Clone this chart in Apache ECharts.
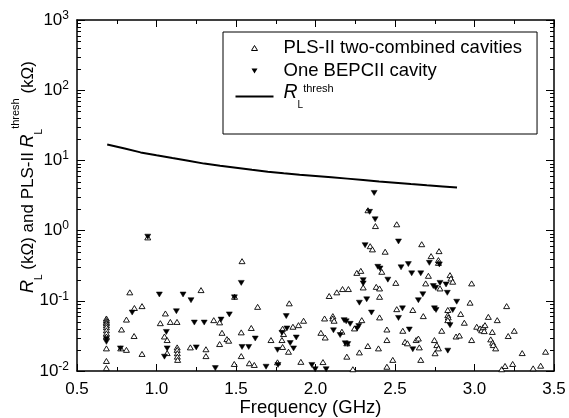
<!DOCTYPE html>
<html><head><meta charset="utf-8">
<script src="https://cdn.jsdelivr.net/npm/echarts@6/dist/echarts.min.js"></script>
<style>html,body{margin:0;padding:0;background:#fff}#c{width:569px;height:418px}</style>
</head><body><div id="c"></div>
<script>
// threshold impedance line (kΩ)
const threshFreq = [0.69,0.8,0.9,1.0,1.1,1.2,1.3,1.4,1.5,1.6,1.7,1.8,1.9,2.0,2.1,2.2,2.3,2.4,2.5,2.6,2.7,2.8,2.89];
const threshR    = [16.9,14.8,13.0,11.8,10.8,9.9,9.0,8.4,7.85,7.35,6.9,6.55,6.25,6.0,5.75,5.5,5.25,5.0,4.8,4.6,4.42,4.25,4.1];

// PLS-II two-combined cavities (open triangles)
const plsFreq = [0.685,0.685,0.685,0.685,0.685,0.685,0.685,0.685,0.685,0.685,0.685,0.685,
  0.775,0.780,0.811,0.811,0.832,0.859,0.861,0.909,0.909,0.945,1.024,1.050,1.056,1.067,1.067,1.087,1.129,1.130,1.130,1.131,1.131,1.133,
  1.213,1.280,1.311,1.311,1.360,1.397,1.397,1.412,1.443,1.454,1.489,1.491,1.533,1.533,1.538,1.584,1.596,1.615,1.636,1.720,1.761,
  1.789,1.793,1.793,1.799,1.830,1.835,1.858,1.893,1.908,1.925,2.034,2.047,2.057,2.061,2.086,2.109,2.109,2.117,2.134,2.166,2.170,
  2.197,2.197,2.207,2.235,2.245,2.260,2.276,2.285,2.291,2.300,2.329,2.330,2.344,2.358,2.377,2.382,2.396,2.403,2.403,2.403,2.417,
  2.438,2.449,2.449,2.449,2.486,2.505,2.511,2.511,2.549,2.563,2.578,2.612,2.633,2.647,2.653,2.662,2.668,2.678,2.693,2.710,2.727,
  2.748,2.752,2.763,2.773,2.773,2.773,2.777,2.783,2.794,2.832,2.832,2.835,2.832,2.846,2.852,2.863,2.884,2.905,2.913,2.936,2.972,
  2.982,2.982,3.014,3.035,3.045,3.055,3.061,3.066,3.087,3.102,3.112,3.114,3.118,3.133,3.143,3.171,3.192,3.202,3.212,3.240,3.250,
  3.300,3.369,3.416,3.447];
const plsR = [0.056,0.053,0.050,0.048,0.045,0.042,0.038,0.0344,0.031,0.021,0.0139,0.011,
  0.021,0.039,0.054,0.020,0.132,0.0315,0.079,0.084,0.0175,0.80,0.048,0.031,0.066,0.0276,0.018,0.050,0.050,0.0217,0.020,0.0179,0.016,0.0144,
  0.0217,0.142,0.0204,0.0163,0.053,0.0493,0.0242,0.035,0.0285,0.027,0.0126,0.114,0.0355,0.0163,0.367,0.0129,0.041,0.0122,0.082,0.0276,0.0133,
  0.0276,0.040,0.022,0.0336,0.0188,0.092,0.0427,0.045,0.0135,0.052,0.035,0.0134,0.056,0.030,0.117,0.0605,0.056,0.052,0.132,0.0363,0.147,
  0.0248,0.016,0.147,0.0106,0.0404,0.25,0.0184,0.267,0.053,0.155,0.0227,1.95,0.60,0.54,1.16,0.158,0.021,0.150,0.114,0.058,0.259,
  0.50,0.039,0.0276,0.0115,0.0144,0.18,1.23,0.076,0.0374,0.026,0.0248,0.074,0.0276,0.029,0.0217,0.0144,0.64,0.0605,0.177,0.227,0.433,
  0.0276,0.0179,0.0234,0.021,0.38,0.347,0.51,0.150,0.0374,0.074,0.0625,0.058,0.053,0.232,0.208,0.187,0.031,0.032,0.065,0.0487,0.094,
  0.177,0.0276,0.0427,0.0404,0.038,0.042,0.037,0.045,0.059,0.0282,0.036,0.0253,0.0234,0.021,0.053,0.0106,0.0118,0.084,0.0315,0.0126,0.0374,
  0.018,0.0109,0.0119,0.0188];

// One BEPCII cavity (filled down triangles)
const bepFreq = [0.685,0.685,0.773,0.847,0.945,1.018,1.050,1.062,1.067,1.125,1.167,1.217,1.238,1.250,1.300,1.370,1.406,1.458,1.490,
  1.533,1.538,1.580,1.621,1.689,1.761,1.764,1.789,1.816,1.820,1.841,1.862,1.879,1.977,1.998,2.067,2.113,2.155,2.180,2.187,2.193,
  2.203,2.218,2.262,2.272,2.276,2.300,2.300,2.312,2.322,2.340,2.352,2.369,2.375,2.392,2.406,2.455,2.522,2.522,2.538,2.547,2.584,
  2.590,2.605,2.612,2.647,2.662,2.675,2.716,2.741,2.748,2.756,2.758,2.779,2.783,2.821,2.829,2.832,2.846,2.863,2.888];
const bepR = [0.0285,0.026,0.021,0.068,0.82,0.123,0.016,0.036,0.021,0.071,0.123,0.102,0.049,0.0217,0.049,0.011,0.054,0.064,0.112,
  0.18,0.022,0.022,0.029,0.0115,0.020,0.0122,0.035,0.0605,0.0404,0.025,0.021,0.030,0.0122,0.0106,0.0106,0.038,0.0325,0.053,0.0248,0.051,
  0.0242,0.047,0.0404,0.0436,0.094,0.197,0.177,0.62,0.105,1.85,0.068,3.44,1.45,0.305,0.289,0.20,0.70,0.057,0.30,0.078,0.333,
  0.039,0.246,0.0204,0.102,0.246,0.124,0.347,0.162,0.078,0.153,0.074,0.33,0.18,0.171,0.13,0.0195,0.045,0.074,0.097];

// axes
const xTickStep = 0.5;
const xRange = [0.5, 3.5];
const yRange = [0.01, 1000];
const yDecades = [-2, -1, 0, 1, 2];          // decades that get 2..9 minor ticks
const yMinorMultipliers = [2, 3, 4, 5, 6, 7, 8, 9];

const FONT = '"Liberation Sans", Arial, sans-serif';
const zip = (a, b) => a.map((v, i) => [v, b[i]]);
const yMinorTicks = [];
yDecades.forEach(d => yMinorMultipliers.forEach(m => yMinorTicks.push(m * Math.pow(10, d))));

const chart = echarts.init(document.getElementById('c'), null, {renderer: 'canvas'});

const axisCommonX = {
  type: 'value', min: xRange[0], max: xRange[1], interval: xTickStep,
  axisLine: {show: true, onZero: false, lineStyle: {color: '#000', width: 1.5}},
  axisTick: {show: true, inside: true, length: 7, lineStyle: {color: '#000', width: 1}},
  minorTick: {show: true, splitNumber: 2, length: 4, lineStyle: {color: '#000', width: 1}},
  splitLine: {show: false}
};
const axisCommonY = {
  type: 'log', logBase: 10, min: yRange[0], max: yRange[1],
  axisLine: {show: true, onZero: false, lineStyle: {color: '#000', width: 1.5}},
  axisTick: {show: true, inside: true, length: 8, lineStyle: {color: '#000', width: 1}},
  minorTick: {show: false},
  splitLine: {show: false}
};

chart.setOption({
  animation: false,
  backgroundColor: '#fff',
  grid: {left: 77, right: 15, top: 20, bottom: 47, containLabel: false, outerBoundsMode: 'none'},
  legend: {
    orient: 'vertical', left: 223, top: 32,
    padding: [4.5, 15, 23.5, 12],
    borderColor: '#000', borderWidth: 1, backgroundColor: '#fff',
    itemWidth: 38, itemHeight: 5, itemGap: 0, symbolKeepAspect: true,
    textStyle: {fontFamily: FONT, fontSize: 18.5, color: '#000', lineHeight: 23, padding: [0, 0, 0, 5],
      rich: {
        r: {fontFamily: FONT, fontSize: 19.5, fontStyle: 'italic', color: '#000', lineHeight: 21, padding: [0, 0, 7, 0]},
        sub: {fontFamily: FONT, fontSize: 10, color: '#000', lineHeight: 10, padding: [18, 0, 0, 0]},
        sup: {fontFamily: FONT, fontSize: 11, color: '#000', lineHeight: 11, padding: [0, 0, 15, 0]}
      }},
    formatter: function (name) {
      if (name === 'thresh') return '{r|R}{sub|L}{sup|thresh}';
      return name;
    },
    data: [
      {name: 'PLS-II two-combined cavities', icon: 'path://M0,0M38,5M16,5L19,0L22,5Z',
        itemStyle: {color: '#fff', borderColor: '#000', borderWidth: 1}},
      {name: 'One BEPCII cavity', icon: 'path://M0,0M38,5M16,0L22,0L19,5Z',
        itemStyle: {color: '#000', borderColor: '#000', borderWidth: 0}},
      {name: 'thresh', icon: 'path://M0,0M38,5M0,1.5L38,1.5L38,3.5L0,3.5Z',
        itemStyle: {color: '#000', borderColor: '#000', borderWidth: 0}}
    ]
  },
  xAxis: [
    Object.assign({}, axisCommonX, {
      position: 'bottom',
      name: 'Frequency (GHz)', nameLocation: 'middle', nameGap: 27, nameMoveOverlap: false,
      nameTextStyle: {fontFamily: FONT, fontSize: 18.5, color: '#000', padding: [0, 10, 0, 0]},
      axisLabel: {show: true, margin: 10, fontFamily: FONT, fontSize: 17, color: '#000',
        formatter: v => v.toFixed(1)}
    }),
    Object.assign({}, axisCommonX, {position: 'top', axisLabel: {show: false}})
  ],
  yAxis: [
    Object.assign({}, axisCommonY, {
      position: 'left',
      name: '{r|R}{sub|L}{t| (kΩ) and PLS-II }{r|R}{sub|L}{sup|thresh}{t| (kΩ)}',
      nameLocation: 'middle', nameGap: 40, nameRotate: 90, nameMoveOverlap: false,
      nameTextStyle: {fontFamily: FONT, fontSize: 17, color: '#000', padding: [0, 0, 0, 37],
        rich: {
          t: {fontFamily: FONT, fontSize: 17, color: '#000'},
          r: {fontFamily: FONT, fontSize: 18, fontStyle: 'italic', color: '#000'},
          sub: {fontFamily: FONT, fontSize: 10, color: '#000', lineHeight: 10, padding: [23, 0, 0, 0]},
          sup: {fontFamily: FONT, fontSize: 11, color: '#000', lineHeight: 11, padding: [0, 0, 25, 0]}
        }},
      axisLabel: {show: true, margin: 8, fontFamily: FONT, fontSize: 17, color: '#000',
        formatter: function (v) {
          const e = Math.round(Math.log10(v));
          return '{b|10}{e|' + e + '}';
        },
        rich: {
          b: {fontFamily: FONT, fontSize: 17, color: '#000'},
          e: {fontFamily: FONT, fontSize: 12, color: '#000', padding: [0, 0, 9, 0]}
        }}
    }),
    Object.assign({}, axisCommonY, {position: 'right', axisLabel: {show: false}})
  ],
  series: [
    {
      // log-spaced minor ticks on the left and right frame, placed through the y scale
      type: 'custom', xAxisIndex: 0, yAxisIndex: 0, silent: true, clip: false, z: 1,
      data: yMinorTicks.map(v => [xRange[0], v]),
      renderItem: function (params, api) {
        const v = api.value(1);
        const pL = api.coord([xRange[0], v]);
        const pR = api.coord([xRange[1], v]);
        const y = Math.round(pL[1]) + 0.5;
        return {type: 'group', children: [
          {type: 'line', shape: {x1: pL[0], y1: y, x2: pL[0] + 4, y2: y}, style: {stroke: '#000', lineWidth: 1}},
          {type: 'line', shape: {x1: pR[0] - 4, y1: y, x2: pR[0], y2: y}, style: {stroke: '#000', lineWidth: 1}}
        ]};
      }
    },
    {
      name: 'PLS-II two-combined cavities', type: 'scatter', xAxisIndex: 0, yAxisIndex: 0,
      symbol: 'triangle', symbolSize: [6, 5],
      itemStyle: {color: '#fff', borderColor: '#000', borderWidth: 0.9, opacity: 1},
      data: zip(plsFreq, plsR), z: 3
    },
    {
      name: 'One BEPCII cavity', type: 'scatter', xAxisIndex: 0, yAxisIndex: 0,
      symbol: 'triangle', symbolRotate: 180, symbolSize: [6, 5],
      itemStyle: {color: '#000', borderColor: '#000', borderWidth: 0.5, opacity: 1},
      data: zip(bepFreq, bepR), z: 4
    },
    {
      name: 'thresh', type: 'line', xAxisIndex: 0, yAxisIndex: 0,
      symbol: 'none', smooth: false,
      lineStyle: {color: '#000', width: 2}, itemStyle: {color: '#000'},
      data: zip(threshFreq, threshR), z: 2
    }
  ]
});
</script></body></html>
